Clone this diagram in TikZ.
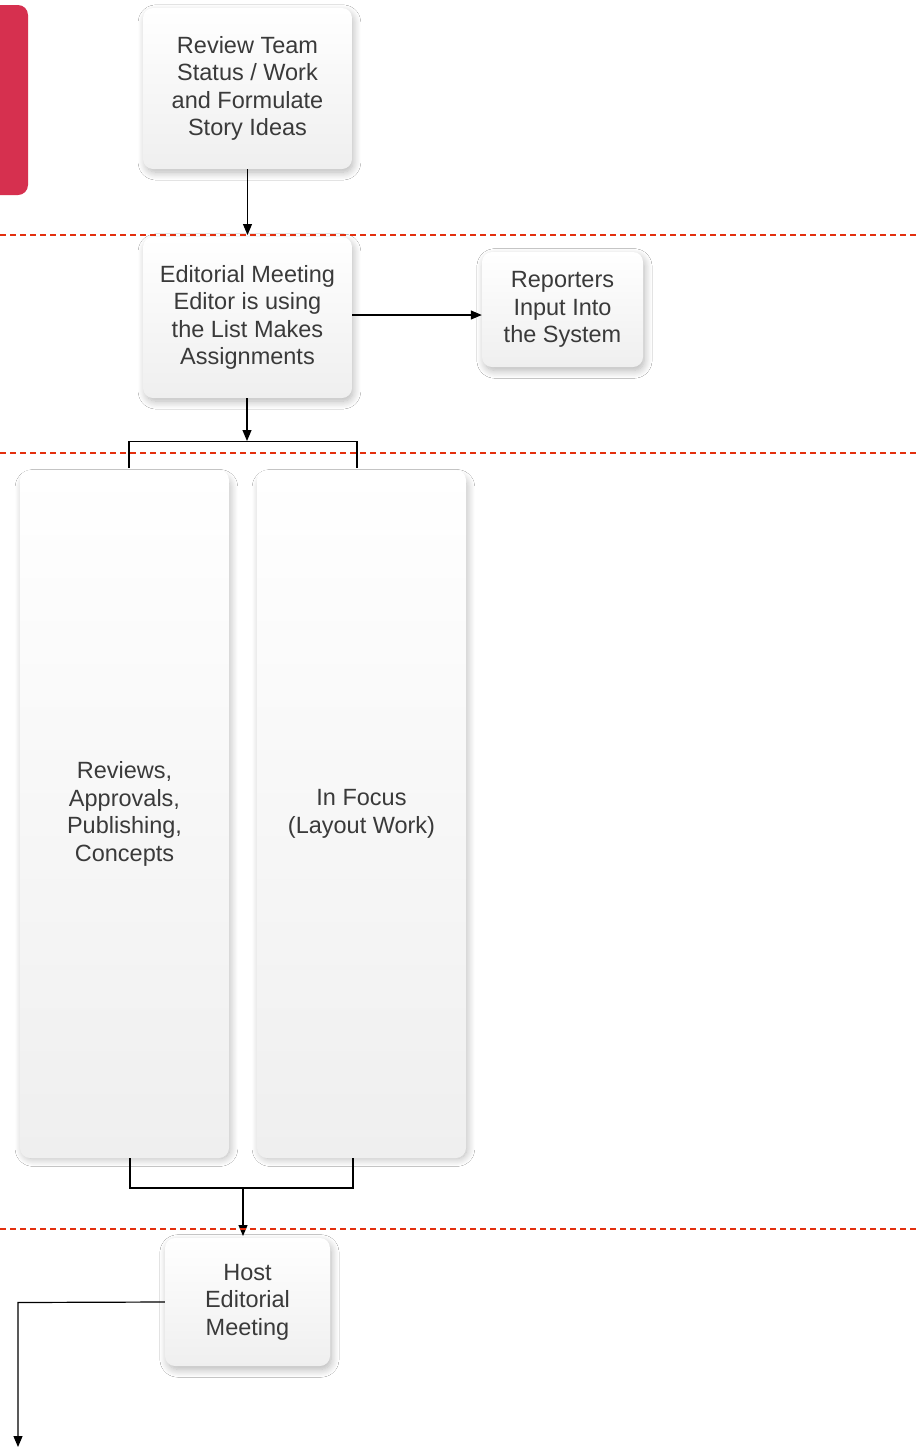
\documentclass[tikz,border=0pt]{standalone}
\usepackage{fontspec}
\setmainfont{Liberation Sans}
\usetikzlibrary{arrows.meta,shadows.blur}
\definecolor{redtab}{HTML}{D6304F}
\definecolor{sep}{HTML}{E3300F}
\definecolor{txt}{HTML}{3A3A3A}
\definecolor{boxbot}{HTML}{EFEFEF}
\begin{document}
\begin{tikzpicture}[x=1pt,y=-1pt,
  box/.style={rounded corners=10pt, top color=white, bottom color=boxbot,
    draw=none, text=txt, align=center, inner sep=0pt,
    font=\fontsize{23.5}{27.5}\selectfont,
    blur shadow={shadow xshift=2pt, shadow yshift=-4pt, shadow blur steps=10, shadow opacity=30, shadow blur radius=8pt, shadow scale=0.99}},
  sepline/.style={draw=sep, line width=2pt, dash pattern=on 6pt off 4pt},
  conn/.style={draw=black, line width=1.2pt},
  arr/.style={conn, -{Triangle[length=11pt,width=9pt]}}]
\useasboundingbox (0,0) rectangle (920,1449);
\fill[white] (0,0) rectangle (920,1449);
% red tab
\fill[redtab, rounded corners=10pt] (-20,5) rectangle (28,195);
% boxes
\node[box, minimum width=209pt, minimum height=161pt] (b1) at (247.5,88.5) {Review Team\\Status / Work\\and Formulate\\Story Ideas};
\node[box, minimum width=209pt, minimum height=161pt] (b2) at (247.5,317.5) {Editorial Meeting\\Editor is using\\the List Makes\\Assignments};
\node[box, minimum width=161pt, minimum height=115pt] (b3) at (562.5,309.5) {Reporters\\Input Into\\the System};
\node[box, minimum width=209pt, minimum height=688pt] (b4) at (124.5,814) {Reviews,\\Approvals,\\Publishing,\\Concepts};
\node[box, minimum width=209pt, minimum height=688pt] (b5) at (361.5,814) {In Focus\\(Layout Work)};
\node[box, minimum width=165pt, minimum height=128pt] (b6) at (247.5,1302) {Host\\Editorial\\Meeting};
% connectors
\draw[arr] (b1.south) -- (247.5,235);
\draw[arr] (b2.east |- 0,315) -- (b3.west |- 0,315);
\coordinate (t1) at (247,441);
\coordinate (tl) at (129,441.5);
\coordinate (tr) at (357,441.5);
\draw[arr] (b2.south -| t1) -- (t1);
\draw[conn] (129,468) -- (tl) -- (tr) -- (357,468);
\coordinate (m1) at (243,1188);
\draw[conn] (130,1158) -- (130,1188) -- (353,1188) -- (353,1158);
\draw[arr] (m1) -- (243,1236);
\coordinate (e1) at (18,1447);
\draw[arr] (b6.west |- 0,1302) -- (18,1302.5) -- (e1);
% separators
\draw[sepline] (0,235) -- (920,235);
\draw[sepline] (0,453) -- (920,453);
\draw[sepline] (0,1229) -- (920,1229);
\end{tikzpicture}
\end{document}
